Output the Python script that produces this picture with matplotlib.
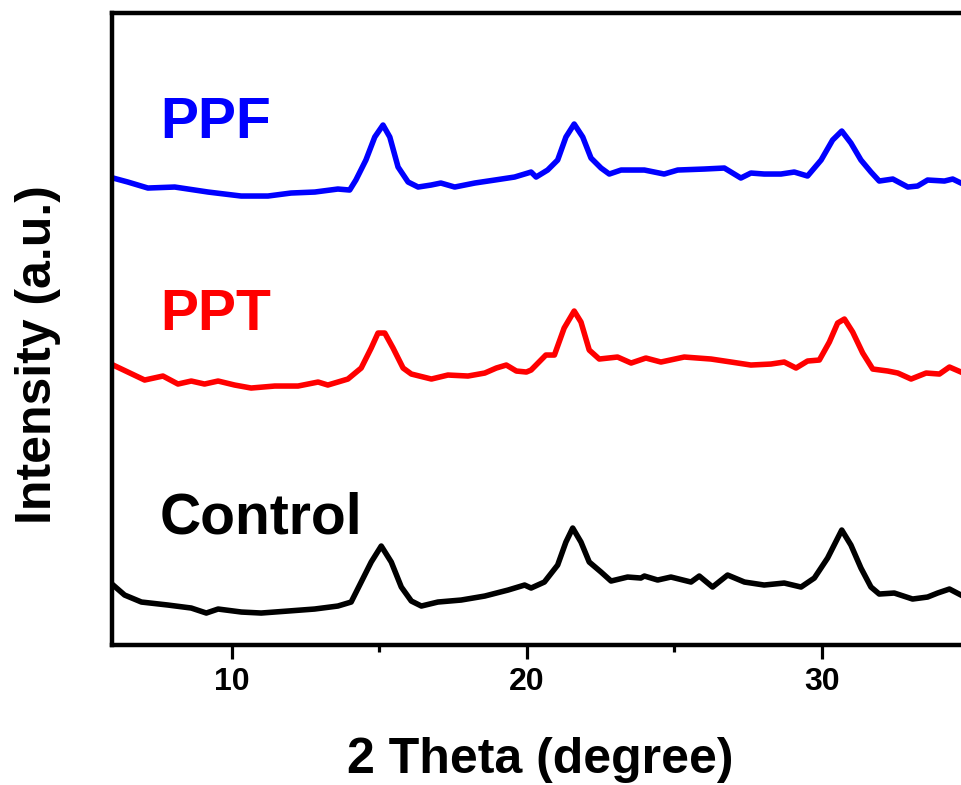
# -*- coding: utf-8 -*-
# XRD patterns of Control, PPT and PPF films

import numpy as np
import matplotlib
matplotlib.use('Agg')
from matplotlib import pyplot as plt
from matplotlib.ticker import MultipleLocator

plt.rcParams['font.family'] = ['Liberation Sans', 'DejaVu Sans']
plt.rcParams['font.weight'] = 'bold'

# data (2 theta in degree, intensity in a.u., curves already offset)
ppf_theta = [5.97, 6.47, 7.15, 8.06, 9.19, 10.31, 11.22, 12.00, 12.81, 13.59, 13.99, 14.20,
             14.54, 14.84, 15.12, 15.35, 15.63, 15.97, 16.31, 16.75, 17.08, 17.55, 18.23,
             18.91, 19.58, 20.03, 20.14, 20.31, 20.70, 21.04, 21.32, 21.60, 21.89, 22.17,
             22.51, 22.79, 23.19, 23.98, 24.65, 25.11, 26.01, 26.69, 27.25, 27.59, 28.04,
             28.61, 29.06, 29.51, 29.97, 30.36, 30.67, 30.98, 31.32, 31.66, 31.94, 32.40,
             32.91, 33.24, 33.58, 34.15, 34.43, 34.71]
ppf_int = [467, 463, 457, 458, 453, 449, 449, 452, 453, 456, 455, 465,
           485, 508, 520, 508, 478, 463, 458, 460, 462, 458, 462,
           465, 468, 472, 473, 468, 475, 485, 508, 521, 508, 487,
           477, 471, 475, 475, 471, 475, 476, 477, 467, 472, 471,
           471, 473, 469, 485, 505, 514, 502, 485, 473, 464, 466,
           458, 459, 465, 464, 466, 462]

ppt_theta = [5.97, 6.47, 7.04, 7.66, 8.17, 8.62, 9.07, 9.53, 10.09, 10.65, 11.45, 12.24,
             12.92, 13.25, 13.93, 14.38, 14.72, 14.95, 15.18, 15.46, 15.80, 16.08, 16.76,
             17.32, 18.00, 18.57, 18.96, 19.30, 19.64, 19.98, 20.14, 20.64, 20.93, 21.26,
             21.60, 21.83, 22.11, 22.45, 23.07, 23.53, 24.03, 24.54, 25.33, 26.24, 26.92,
             27.59, 28.27, 28.72, 29.12, 29.51, 29.91, 30.25, 30.53, 30.76, 31.04, 31.38,
             31.72, 32.23, 32.57, 33.02, 33.53, 33.98, 34.32, 34.71]
ppt_int = [280, 273, 265, 269, 261, 264, 261, 264, 260, 257, 259, 259,
           263, 260, 266, 277, 297, 312, 312, 297, 277, 271, 266,
           270, 269, 272, 277, 280, 274, 273, 275, 290, 290, 317,
           334, 323, 295, 286, 288, 282, 287, 283, 288, 286, 283,
           280, 281, 283, 277, 284, 285, 303, 322, 326, 313, 292,
           276, 274, 272, 266, 272, 271, 278, 273]

ctrl_theta = [5.97, 6.36, 6.93, 7.83, 8.62, 9.13, 9.53, 10.32, 10.99, 11.90, 12.80, 13.59,
              14.04, 14.38, 14.72, 15.06, 15.40, 15.74, 16.08, 16.42, 16.98, 17.77, 18.57,
              19.36, 19.92, 20.14, 20.59, 21.04, 21.32, 21.55, 21.83, 22.11, 22.51, 22.85,
              23.41, 23.86, 23.98, 24.43, 24.88, 25.56, 25.84, 26.29, 26.80, 27.37, 28.04,
              28.72, 29.29, 29.74, 30.19, 30.67, 30.98, 31.32, 31.66, 31.94, 32.45, 33.07,
              33.58, 33.92, 34.32, 34.71]
ctrl_int = [60, 50, 43, 40, 37, 32, 36, 33, 32, 34, 36, 39,
            43, 63, 83, 99, 83, 58, 44, 39, 43, 45, 49,
            55, 60, 57, 63, 80, 103, 117, 103, 83, 73, 64,
            68, 67, 69, 65, 68, 63, 69, 58, 70, 63, 60,
            62, 58, 67, 87, 115, 100, 77, 58, 51, 52, 46,
            48, 52, 56, 50]

names = ['PPF', 'PPT', 'Control']
colors = ['#0000ff', '#ff0000', '#000000']
label_pos = [(7.56, 507), (7.56, 315), (7.56, 112)]

fig = plt.figure(figsize=(9.61, 7.85), dpi=100)
ax = fig.add_axes([0.1165, 0.1783, 0.9077, 0.8051])

for th, it, name, c, pos in zip([ppf_theta, ppt_theta, ctrl_theta],
                                [ppf_int, ppt_int, ctrl_int],
                                names, colors, label_pos):
    ax.plot(th, it, color=c, lw=4.0, solid_joinstyle='round')
    ax.text(pos[0], pos[1], name, color=c, fontsize=41, fontweight='bold', va='baseline')

ax.set_xlim(5.932, 35.5)
ax.set_ylim(0, 632)

for s in ax.spines.values():
    s.set_linewidth(3.2)

ax.xaxis.set_major_locator(MultipleLocator(10))
ax.xaxis.set_minor_locator(MultipleLocator(5))
ax.tick_params(axis='x', which='major', direction='out', length=10, width=2.3,
               labelsize=23, pad=6)
ax.tick_params(axis='x', which='minor', direction='out', length=5, width=2.3)
ax.set_yticks([])

fig.text(0.562, 0.015, '2 Theta (degree)', fontsize=36, fontweight='bold',
         ha='center', va='baseline')
fig.text(0.04, 0.548, 'Intensity (a.u.)', fontsize=36, fontweight='bold',
         ha='center', va='center', rotation=90)

plt.savefig('out.png', dpi=100)
